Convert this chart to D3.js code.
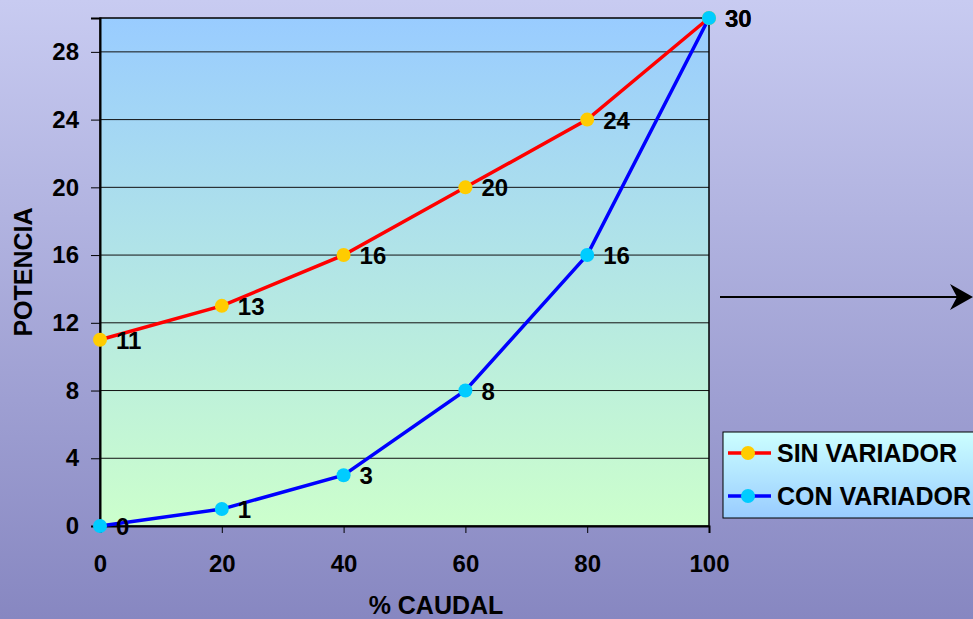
<!DOCTYPE html>
<html><head><meta charset="utf-8">
<script src="https://cdn.jsdelivr.net/npm/d3@7"></script>
<style>html,body{margin:0;padding:0;overflow:hidden;}svg{display:block;font-family:"Liberation Sans",Arial,sans-serif;font-weight:bold;}</style>
</head><body>
<script>
const caudal = [0, 20, 40, 60, 80, 100];
const sinVariador = [11, 13, 16, 20, 24, 30];
const conVariador = [0, 1, 3, 8, 16, 30];
const yTicks = [0, 4, 8, 12, 16, 20, 24, 28];
const xTicks = [0, 20, 40, 60, 80, 100];
const seriesNames = ["SIN VARIADOR", "CON VARIADOR"];

(function(){
const W = 973, H = 619, FS = 24;
const svg = d3.select("body").append("svg").attr("width", W).attr("height", H);
const defs = svg.append("defs");
const bg = defs.append("linearGradient").attr("id","bg").attr("x1",0).attr("y1",0).attr("x2",0).attr("y2",1);
bg.append("stop").attr("offset","0%").attr("stop-color","#C8CBF1");
bg.append("stop").attr("offset","100%").attr("stop-color","#8787C1");
const pg = defs.append("linearGradient").attr("id","pg").attr("x1",0).attr("y1",0).attr("x2",0).attr("y2",1);
pg.append("stop").attr("offset","0%").attr("stop-color","#99CCFF");
pg.append("stop").attr("offset","100%").attr("stop-color","#CCFFCC");
const lg = defs.append("linearGradient").attr("id","lg").attr("x1",0).attr("y1",0).attr("x2",0).attr("y2",1);
lg.append("stop").attr("offset","0%").attr("stop-color","#CCFFFF");
lg.append("stop").attr("offset","100%").attr("stop-color","#99CCFF");

svg.append("rect").attr("width",W).attr("height",H).attr("fill","url(#bg)");

const pL = 100, pR = 709, pT = 18, pB = 526;
const x = d3.scaleLinear().domain([0,100]).range([pL,pR]);
const y = d3.scaleLinear().domain([0,30]).range([pB,pT]);

svg.append("rect").attr("x",pL).attr("y",pT).attr("width",pR-pL).attr("height",pB-pT)
  .attr("fill","url(#pg)");

svg.append("g").selectAll("line").data(yTicks.filter(d=>d>0)).join("line")
  .attr("x1",pL).attr("x2",pR).attr("y1",d=>y(d)).attr("y2",d=>y(d))
  .attr("stroke","#111").attr("stroke-width",1);

svg.append("rect").attr("x",pL).attr("y",pT).attr("width",pR-pL).attr("height",pB-pT)
  .attr("fill","none").attr("stroke","#000").attr("stroke-width",1.5);

const yAxis = svg.append("g").attr("transform",`translate(${pL},0)`)
  .call(d3.axisLeft(y).tickValues(yTicks).tickSize(9).tickPadding(12).tickFormat(d3.format("d")));
yAxis.select(".domain").attr("stroke","#000").attr("stroke-width",2);
yAxis.selectAll(".tick line").attr("stroke","#000");
yAxis.selectAll("text").attr("font-size",FS).attr("font-weight","bold").attr("fill","#000")
  .attr("font-family","Liberation Sans, Arial, sans-serif");

const xAxis = svg.append("g").attr("transform",`translate(0,${pB})`)
  .call(d3.axisBottom(x).tickValues(xTicks).tickSize(7).tickPadding(22).tickFormat(d3.format("d")));
xAxis.select(".domain").attr("stroke","#000").attr("stroke-width",2);
xAxis.selectAll(".tick line").attr("stroke","#000");
xAxis.selectAll("text").attr("font-size",FS).attr("font-weight","bold").attr("fill","#000")
  .attr("font-family","Liberation Sans, Arial, sans-serif");

svg.append("text").attr("x",436).attr("y",614).attr("text-anchor","middle").attr("font-size",25).text("% CAUDAL");
svg.append("text").attr("transform","translate(32,272) rotate(-90)").attr("text-anchor","middle").attr("font-size",25).text("POTENCIA");

const series = [
  {name: seriesNames[0], vals: sinVariador, line: "#FF0000", dot: "#FFCC00"},
  {name: seriesNames[1], vals: conVariador, line: "#0000FF", dot: "#00CCFF"}
];
const lineGen = d3.line().x(d=>x(d[0])).y(d=>y(d[1]));
series.forEach(s=>{
  const pts = caudal.map((c,i)=>[c, s.vals[i]]);
  svg.append("path").attr("d", lineGen(pts)).attr("fill","none").attr("stroke",s.line).attr("stroke-width",3.5);
});
series.forEach(s=>{
  const pts = caudal.map((c,i)=>[c, s.vals[i]]);
  svg.append("g").selectAll("circle").data(pts).join("circle")
    .attr("cx",d=>x(d[0])).attr("cy",d=>y(d[1])).attr("r",7).attr("fill",s.dot);
  svg.append("g").selectAll("text").data(pts).join("text")
    .attr("x",d=>x(d[0])+16).attr("y",d=>y(d[1])+9).attr("font-size",FS).attr("fill","#000")
    .text(d=>d[1]);
});

svg.append("line").attr("x1",720).attr("y1",297).attr("x2",960).attr("y2",297)
  .attr("stroke","#000").attr("stroke-width",2);
svg.append("path").attr("d","M950,284 L973,297 L950,310 L957,297 Z").attr("fill","#000");

const lgx = 723, lgy = 432;
svg.append("rect").attr("x",lgx).attr("y",lgy).attr("width",270).attr("height",86)
  .attr("fill","url(#lg)").attr("stroke","#000").attr("stroke-width",1);
series.forEach((s,i)=>{
  const cy = lgy + 21 + i*43;
  svg.append("line").attr("x1",lgx+5).attr("x2",lgx+48).attr("y1",cy).attr("y2",cy).attr("stroke",s.line).attr("stroke-width",3.5);
  svg.append("circle").attr("cx",lgx+25).attr("cy",cy).attr("r",7).attr("fill",s.dot);
  svg.append("text").attr("x",lgx+54).attr("y",cy+9).attr("font-size",25).attr("fill","#000").text(s.name);
});
})();
</script>
</body></html>
